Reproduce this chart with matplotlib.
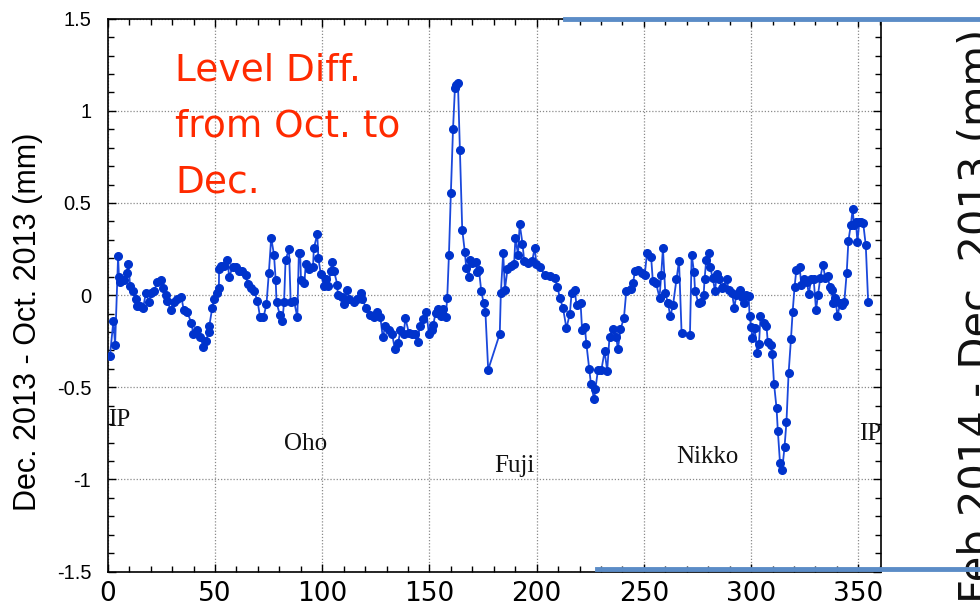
import matplotlib
matplotlib.use("Agg")
import matplotlib.pyplot as plt
from matplotlib.lines import Line2D
from matplotlib.ticker import MultipleLocator

# ---- data ----
x_vals = [
    1.0, 2.6, 3.4, 4.8, 5.2, 5.8, 7.6, 8.8, 9.6, 10.4, 11.9, 13.0, 13.8, 15.0, 16.5, 17.7,
    19.3, 20.0, 21.5, 23.1, 24.6, 25.7, 27.0, 27.7, 29.3, 30.8, 32.4, 34.3, 35.4, 37.0,
    38.9, 39.9, 41.6, 43.2, 44.5, 45.6, 47.2, 47.3, 48.7, 49.5, 50.8, 51.8, 51.9, 53.0,
    54.3, 55.8, 56.6, 58.2, 59.6, 61.2, 62.8, 64.3, 65.2, 66.7, 68.2, 69.8, 71.0, 72.6,
    74.0, 75.1, 76.2, 77.5, 78.3, 78.7, 80.3, 81.4, 82.2, 82.9, 84.5, 85.3, 86.8, 88.4,
    89.1, 89.7, 90.1, 91.7, 92.3, 93.9, 95.7, 96.1, 97.7, 98.2, 99.3, 100.8, 101.6, 102.9,
    103.9, 104.7, 105.5, 107.1, 107.2, 109.3, 110.1, 111.7, 112.4, 114.7, 116.3, 117.9,
    118.6, 120.5, 122.5, 124.0, 125.6, 127.1, 128.2, 129.5, 131.0, 132.6, 133.8, 135.4,
    136.5, 138.0, 138.8, 140.4, 141.8, 143.1, 144.6, 145.4, 147.0, 148.6, 149.7, 151.0,
    151.8, 152.9, 154.1, 155.2, 156.5, 157.6, 158.3, 159.1, 160.0, 161.0, 161.9, 162.6,
    163.3, 164.2, 165.3, 166.5, 167.2, 168.4, 168.9, 170.0, 171.5, 172.3, 173.1, 174.2,
    175.3, 176.1, 177.4, 182.8, 183.3, 184.4, 185.2, 186.4, 187.9, 189.5, 190.1, 191.3,
    192.1, 193.4, 194.2, 196.0, 197.9, 199.1, 199.9, 201.5, 203.8, 206.1, 208.4, 209.7,
    210.8, 212.3, 213.9, 215.5, 216.3, 217.8, 218.6, 220.5, 221.2, 222.5, 223.2, 224.5,
    225.3, 226.8, 227.4, 228.6, 230.2, 231.7, 232.9, 234.0, 235.6, 237.1, 237.9, 239.1,
    240.7, 241.8, 243.8, 244.9, 245.9, 247.5, 249.1, 250.4, 251.5, 253.4, 254.2, 255.7,
    257.3, 258.1, 258.9, 260.0, 261.3, 262.3, 263.6, 265.2, 266.4, 267.6, 271.5, 272.3,
    273.4, 273.9, 275.5, 276.6, 277.9, 278.3, 279.1, 280.5, 280.8, 282.1, 283.2, 284.0,
    285.2, 286.3, 287.1, 288.7, 289.5, 291.1, 292.2, 293.1, 294.7, 295.8, 296.6, 297.8,
    298.9, 299.3, 300.1, 300.6, 301.7, 302.9, 303.7, 304.4, 305.9, 307.2, 307.8, 309.1,
    309.9, 310.7, 311.9, 312.5, 313.5, 314.5, 315.6, 316.5, 317.5, 318.6, 319.4, 320.3,
    321.1, 322.7, 323.4, 324.8, 326.1, 326.9, 328.0, 329.2, 330.3, 331.2, 332.3, 333.5,
    334.6, 335.7, 336.7, 337.7, 338.2, 339.3, 340.3, 341.5, 342.6, 343.5, 344.6, 345.4,
    346.5, 347.4, 348.0, 348.9, 349.6, 350.5, 351.5, 352.3, 353.5, 354.6,
]
y_vals = [
    -0.33, -0.14, -0.27, 0.21, 0.10, 0.07, 0.08, 0.12, 0.17, 0.05, 0.02, -0.02, -0.06, -0.06,
    -0.07, 0.01, -0.04, 0.01, 0.02, 0.07, 0.08, 0.04, 0.00, -0.03, -0.08, -0.04, -0.02, -0.01,
    -0.08, -0.09, -0.15, -0.21, -0.19, -0.23, -0.28, -0.25, -0.20, -0.17, -0.07, -0.02, 0.01,
    0.04, 0.14, 0.16, 0.16, 0.19, 0.10, 0.15, 0.15, 0.13, 0.13, 0.11, 0.06, 0.04, 0.02, -0.03,
    -0.12, -0.12, -0.05, 0.12, 0.31, 0.22, 0.08, -0.04, -0.11, -0.14, -0.04, 0.19, 0.25, -0.04,
    -0.03, -0.12, 0.23, 0.23, 0.08, 0.065, 0.17, 0.14, 0.15, 0.255, 0.33, 0.20, 0.115, 0.05,
    0.09, 0.05, 0.13, 0.18, 0.13, 0.055, 0.00, -0.01, -0.05, 0.03, -0.02, -0.04, -0.02, 0.01,
    -0.02, -0.07, -0.11, -0.12, -0.09, -0.12, -0.225, -0.17, -0.19, -0.21, -0.29, -0.26, -0.19,
    -0.21, -0.125, -0.205, -0.21, -0.21, -0.255, -0.17, -0.13, -0.09, -0.21, -0.19, -0.16,
    -0.095, -0.075, -0.115, -0.075, -0.12, -0.015, 0.22, 0.555, 0.90, 1.125, 1.14, 1.15, 0.79,
    0.355, 0.235, 0.145, 0.10, 0.19, 0.175, 0.18, 0.125, 0.135, 0.02, -0.045, -0.09, -0.405,
    -0.21, 0.01, 0.23, 0.03, 0.14, 0.16, 0.17, 0.31, 0.22, 0.385, 0.28, 0.185, 0.175, 0.185,
    0.255, 0.17, 0.15, 0.11, 0.105, 0.095, 0.045, -0.015, -0.07, -0.18, -0.10, 0.01, 0.025,
    -0.055, -0.045, -0.19, -0.175, -0.265, -0.40, -0.48, -0.565, -0.51, -0.405, -0.405, -0.305,
    -0.41, -0.225, -0.185, -0.225, -0.295, -0.185, -0.125, 0.02, 0.035, 0.065, 0.13, 0.135,
    0.12, 0.11, 0.23, 0.205, 0.075, 0.065, -0.015, 0.11, 0.255, 0.01, -0.045, -0.115, -0.055,
    0.085, 0.185, -0.205, -0.215, 0.22, 0.125, 0.02, -0.045, -0.04, 0.00, 0.085, 0.19, 0.23,
    0.155, 0.095, 0.02, 0.115, 0.085, 0.04, 0.045, 0.085, 0.03, 0.01, -0.07, 0.00, 0.025, -0.01,
    -0.045, 0.00, -0.005, -0.115, -0.175, -0.235, -0.18, -0.315, -0.265, -0.115, -0.15, -0.17,
    -0.255, -0.27, -0.32, -0.48, -0.615, -0.74, -0.91, -0.95, -0.825, -0.69, -0.425, -0.24,
    -0.09, 0.045, 0.135, 0.15, 0.055, 0.085, 0.07, 0.005, 0.085, 0.085, -0.08, 0.00, 0.095,
    0.165, 0.095, 0.105, 0.045, 0.025, -0.045, -0.015, -0.115, -0.045, -0.055, -0.035, 0.12,
    0.295, 0.38, 0.465, 0.38, 0.395, 0.29, 0.395, 0.395, 0.39, 0.27, -0.035,
]

x_ticks = [0, 50, 100, 150, 200, 250, 300, 350]
y_ticks = [-1.5, -1, -0.5, 0, 0.5, 1, 1.5]
y_tick_labels = ["-1.5", "-1", "-0.5", "0", "0.5", "1", "1.5"]

station_names = ["IP", "Oho", "Fuji", "Nikko", "IP"]
station_x = [0.3, 82, 180, 265, 350.5]
station_y = [-0.68, -0.81, -0.925, -0.88, -0.755]

y_label = "Dec. 2013 - Oct. 2013 (mm)"
right_label = "Feb.2014 - Dec. 2013 (mm)"
note_text = "Level Diff.\nfrom Oct. to\nDec."

W, H = 980, 608
fig = plt.figure(figsize=(W / 100, H / 100), dpi=100)
fig.patch.set_facecolor("white")

ax_l, ax_r, ax_t, ax_b = 107.8, 881.0, 18.7, 571.5
ax = fig.add_axes([ax_l / W, 1 - ax_b / H, (ax_r - ax_l) / W, (ax_b - ax_t) / H])

ax.plot(x_vals, y_vals, color="#1a48dc", lw=1.3, marker="o", ms=5.5,
        mfc="#0033cc", mec="#0033cc", zorder=3)

ax.set_xlim(0, 360.6)
ax.set_ylim(-1.5, 1.5)
ax.set_xticks(x_ticks)
ax.set_xticklabels([str(v) for v in x_ticks])
ax.set_yticks(y_ticks)
ax.set_yticklabels(y_tick_labels)
ax.xaxis.set_minor_locator(MultipleLocator(10))
ax.yaxis.set_minor_locator(MultipleLocator(0.1))
ax.tick_params(which="both", direction="in", top=True, right=True, color="black")
ax.tick_params(which="major", length=6, width=1.0)
ax.tick_params(which="minor", length=4, width=1.0)
ax.tick_params(axis="x", which="major", labelsize=19, pad=7)
ax.tick_params(axis="y", which="major", labelsize=14.5, pad=12)
for lab in ax.get_yticklabels():
    lab.set_family("Liberation Sans")
for sp in ax.spines.values():
    sp.set_linewidth(1.2)
ax.grid(True, which="major", color="#8a8a8a", linestyle=(0, (1, 1.5)), lw=0.9)
ax.set_axisbelow(True)

for name, sx, sy in zip(station_names, station_x, station_y):
    ax.text(sx, sy, name, family="Liberation Serif", fontsize=18, color="#111111",
            ha="left", va="center", clip_on=True)

fig.text(175 / W, 1 - 193 / H, note_text, color="#ff2a00", fontsize=27,
         ha="left", va="baseline", linespacing=1.72)

fig.text(28 / W, 1 - 322 / H, y_label, rotation=90, ha="center", va="center",
         fontsize=22, family="Liberation Sans")

fig.text(978 / W, 1 - 316 / H, right_label, rotation=90, ha="center", va="center",
         fontsize=30, family="DejaVu Sans", color="#111111")

blue = "#5b8cc7"
fig.add_artist(Line2D([565 / W, 1.0], [1 - 19 / H, 1 - 19 / H], color=blue, lw=3.5,
                      transform=fig.transFigure, zorder=10))
fig.add_artist(Line2D([597 / W, 1.0], [1 - 569 / H, 1 - 569 / H], color=blue, lw=3.5,
                      transform=fig.transFigure, zorder=10))

fig.savefig("out.png", dpi=100)
